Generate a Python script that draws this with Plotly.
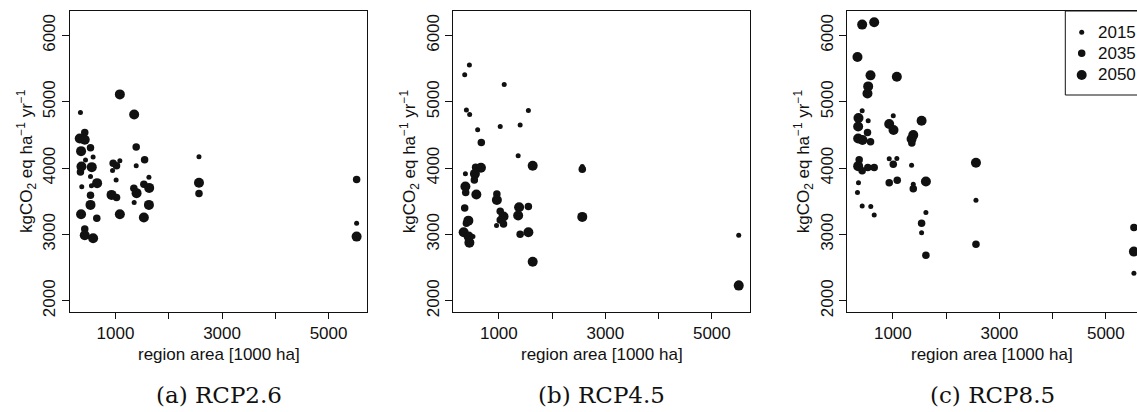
import plotly.graph_objects as go

# ---------------- data ----------------
years = ["2015", "2035", "2050"]
scenarios = ["(a) RCP2.6", "(b) RCP4.5", "(c) RCP8.5"]

# RCP2.6
rcp26_area_2015 = [341, 579, 436, 1081, 944, 1388, 530, 366, 548, 1011, 1627, 1350, 2567, 5527]
rcp26_val_2015 = [4839, 4166, 4121, 4110, 3964, 4035, 3873, 3718, 3733, 3823, 3864, 3481, 4171, 3170]
rcp26_area_2035 = [422, 530, 1546, 1019, 1532, 530, 648, 2567, 5527, 1388, 955, 341, 1019, 1344, 422]
rcp26_val_2035 = [4537, 4306, 4125, 4035, 3758, 3592, 3245, 3618, 3829, 4317, 4075, 3940, 3556, 3698, 3084]
rcp26_area_2050 = [1081, 1350, 328, 422, 353, 360, 554, 654, 1632, 1395, 925, 530, 1627, 353, 1081, 1532, 422, 579, 2567, 5527]
rcp26_val_2050 = [5111, 4809, 4447, 4427, 4256, 4024, 4015, 3774, 3702, 3623, 3597, 3446, 3446, 3306, 3306, 3255, 2989, 2943, 3779, 2968]

# RCP4.5
rcp45_area_2015 = [447, 359, 1101, 391, 452, 1555, 602, 1026, 1400, 1363, 372, 957, 514, 2567, 5505]
rcp45_val_2015 = [5555, 5408, 5262, 4875, 4809, 4869, 4578, 4628, 4649, 4186, 3914, 3134, 2968, 4025, 2990]
rcp45_area_2035 = [671, 564, 963, 359, 1555, 1026, 1026, 1088, 540, 378, 391, 1400, 2567, 5505]
rcp45_val_2035 = [4386, 4015, 3612, 3401, 3420, 3351, 3220, 3159, 3823, 3632, 3170, 3004, 3985, 2250]
rcp45_area_2050 = [1636, 664, 551, 372, 578, 963, 1381, 1088, 1363, 428, 340, 447, 1555, 1636, 433, 2567, 5505]
rcp45_val_2050 = [4035, 4005, 3914, 3722, 3602, 3521, 3411, 3270, 3285, 3209, 3034, 2877, 3034, 2590, 2968, 3265, 2230]

# RCP8.5
rcp85_area_2015 = [424, 537, 1008, 932, 1075, 1352, 355, 336, 1384, 424, 586, 650, 1621, 1540, 2561, 5527]
rcp85_val_2015 = [4865, 4714, 4789, 4140, 4145, 4045, 3778, 3632, 3758, 3431, 3420, 3295, 3330, 3028, 3517, 2415]
rcp85_area_2035 = [1357, 524, 581, 368, 1008, 424, 530, 650, 932, 1083, 1384, 1540, 2561, 1621, 5527]
rcp85_val_2035 = [4377, 4537, 4397, 4125, 4060, 3959, 4010, 4010, 3778, 3819, 3688, 3170, 2853, 2687, 3104]
rcp85_area_2050 = [424, 650, 336, 581, 1075, 537, 524, 355, 349, 1540, 932, 1013, 1384, 1352, 349, 430, 2561, 349, 1621, 5527]
rcp85_val_2050 = [6163, 6198, 5675, 5398, 5378, 5232, 5126, 4755, 4628, 4714, 4664, 4574, 4498, 4438, 4447, 4423, 4080, 4030, 3798, 2742]

x_major_ticks = [1000, 3000, 5000]
x_minor_ticks = [2000, 4000]
y_tickvals = [2000, 3000, 4000, 5000, 6000]
x_title = "region area [1000 ha]"
y_title = "kgCO<sub>2</sub> eq ha<sup>\u22121</sup> yr<sup>\u22121</sup>"

# ---------------- layout geometry ----------------
W, H = 1137, 412
PT, PB = 11, 312          # plot area top/bottom in px
panels_px = [(70, 367), (453.3, 750.3), (847.3, 1137)]
x_ranges = [[145, 5722], [145, 5722], [145, 5585]]
y_range = [1832, 6368]
sizes = {"2015": 5, "2035": 7.5, "2050": 10}
DOT = "#111111"
LINE = "#111111"

series = [
    [(rcp26_area_2015, rcp26_val_2015), (rcp26_area_2035, rcp26_val_2035), (rcp26_area_2050, rcp26_val_2050)],
    [(rcp45_area_2015, rcp45_val_2015), (rcp45_area_2035, rcp45_val_2035), (rcp45_area_2050, rcp45_val_2050)],
    [(rcp85_area_2015, rcp85_val_2015), (rcp85_area_2035, rcp85_val_2035), (rcp85_area_2050, rcp85_val_2050)],
]

def px2x(px):
    return px / W

def py2y(py):
    return (PB - py) / (PB - PT)

fig = go.Figure()
AX_FONT = dict(family="Liberation Sans, Arial, sans-serif", size=17, color="#111111")

for i, panel in enumerate(series):
    sfx = "" if i == 0 else str(i + 1)
    for (area, val), yr in zip(panel, years):
        fig.add_trace(go.Scatter(
            x=area, y=val, mode="markers",
            xaxis="x" + sfx, yaxis="y" + sfx,
            marker=dict(size=sizes[yr], color=DOT, line=dict(width=0)),
            name=yr, showlegend=False, hoverinfo="x+y",
        ))
    x0, x1 = panels_px[i]
    fig.layout["xaxis" + sfx] = dict(
        domain=[px2x(x0), min(1.0, px2x(x1))], range=x_ranges[i], anchor="y" + sfx,
        showgrid=False, zeroline=False, showline=True, mirror=True,
        linecolor=LINE, linewidth=1,
        ticks="outside", ticklen=6, tickwidth=1, tickcolor=LINE,
        tickmode="array", tickvals=x_major_ticks, tickfont=AX_FONT,
        minor=dict(tickmode="array", tickvals=x_minor_ticks, ticks="outside",
                   ticklen=6, tickwidth=1, tickcolor=LINE, showgrid=False),
    )
    fig.layout["yaxis" + sfx] = dict(
        domain=[0, 1], range=y_range, anchor="x" + sfx,
        showgrid=False, zeroline=False, showline=True, mirror=(i < 2),
        linecolor=LINE, linewidth=1,
        ticks="outside", ticklen=7, tickwidth=1, tickcolor=LINE,
        tickmode="array", tickvals=y_tickvals, tickangle=-90, tickfont=AX_FONT,
    )
    cx = (x0 + min(x1, x0 + 297)) / 2
    # x title
    fig.add_annotation(text=x_title, xref="paper", yref="paper", x=px2x(cx), y=py2y(354),
                       xanchor="center", yanchor="middle", showarrow=False, font=AX_FONT)
    # y title
    fig.add_annotation(text=y_title, xref="paper", yref="paper", x=px2x(x0 - 44), y=py2y(161),
                       xanchor="center", yanchor="middle", textangle=-90, showarrow=False, font=AX_FONT)
    # caption
    fig.add_annotation(text=scenarios[i], xref="paper", yref="paper", x=px2x(cx), y=py2y(395),
                       xanchor="center", yanchor="middle", showarrow=False,
                       font=dict(family="DejaVu Serif, Liberation Serif, serif", size=23, color="#111111"))

# legend (drawn manually, partially cut at the right edge like the original)
fig.add_shape(type="rect", xref="paper", yref="paper",
              x0=px2x(1065.3), x1=px2x(1160), y0=py2y(95), y1=py2y(11),
              line=dict(color=LINE, width=1), fillcolor="white", layer="above")
for yr, py in zip(years, [32.3, 53.3, 75]):
    r = sizes[yr] / 2
    fig.add_shape(type="circle", xref="paper", yref="paper", xsizemode="pixel", ysizemode="pixel",
                  xanchor=px2x(1081.7), yanchor=py2y(py), x0=-r, x1=r, y0=-r, y1=r,
                  fillcolor=DOT, line=dict(width=0), layer="above")
    fig.add_annotation(text=yr, xref="paper", yref="paper", x=px2x(1096), y=py2y(py),
                       xanchor="left", yanchor="middle", showarrow=False, font=AX_FONT)

fig.update_layout(
    width=W, height=H, autosize=False,
    margin=dict(l=0, r=0, t=PT, b=H - PB, autoexpand=False),
    paper_bgcolor="white", plot_bgcolor="white",
    showlegend=False,
)

fig.write_html("out.html", config={"displayModeBar": False},
               post_script="document.body.style.margin='0';")
